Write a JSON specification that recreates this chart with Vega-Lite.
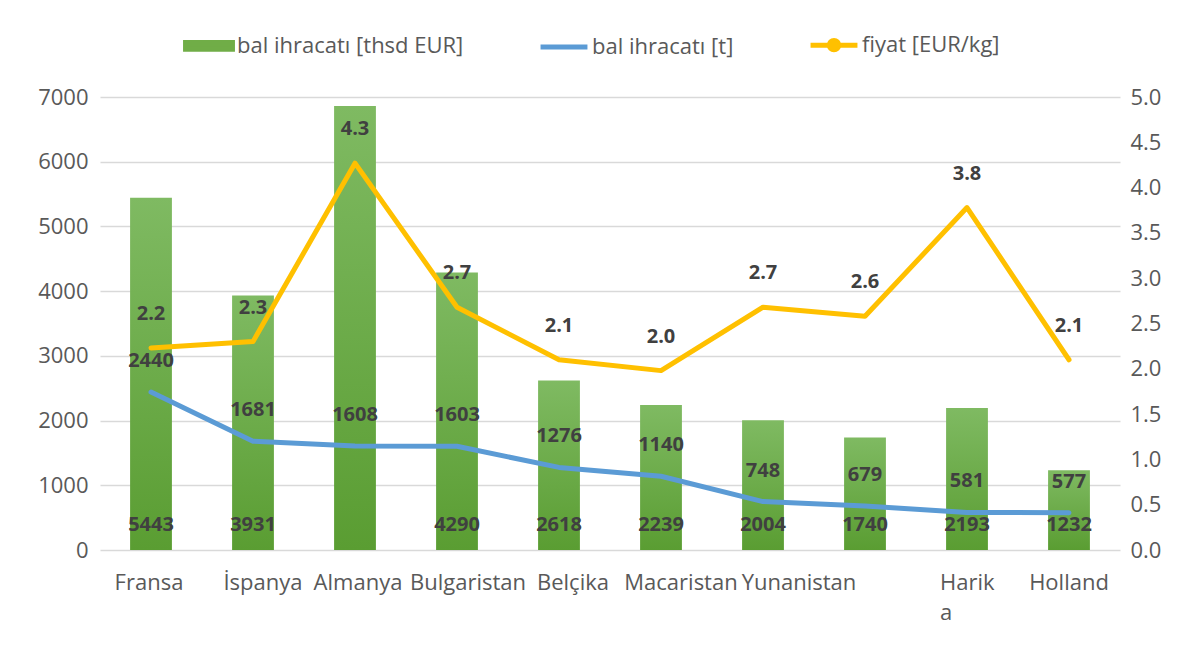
{
  "$schema": "https://vega.github.io/schema/vega-lite/v6.json",
  "width": 1020,
  "height": 453,
  "autosize": {"type": "none"},
  "padding": {"left": 100, "top": 97, "right": 72, "bottom": 95},
  "background": "white",
  "config": {
    "view": {"stroke": null},
    "font": "Open Sans",
    "axis": {"labelFont": "Open Sans", "labelFontSize": 22, "labelColor": "#595959", "ticks": false, "domain": false, "title": null}
  },
  "data": {
    "values": [
      {"country": "Fransa", "eur": 5443, "t": 2440, "p": 2.23},
      {"country": "İspanya", "eur": 3931, "t": 1681, "p": 2.3},
      {"country": "Almanya", "eur": 6862, "t": 1608, "p": 4.27},
      {"country": "Bulgaristan", "eur": 4290, "t": 1603, "p": 2.68},
      {"country": "Belçika", "eur": 2618, "t": 1276, "p": 2.1},
      {"country": "Macaristan", "eur": 2239, "t": 1140, "p": 1.98},
      {"country": "Yunanistan", "eur": 2004, "t": 748, "p": 2.68},
      {"country": " ", "eur": 1740, "t": 679, "p": 2.58},
      {"country": "Harika", "eur": 2193, "t": 581, "p": 3.78},
      {"country": "Holland", "eur": 1232, "t": 577, "p": 2.1}
    ]
  },
  "encoding": {
    "x": {
      "field": "country", "type": "nominal", "sort": null,
      "scale": {"paddingInner": 0.59, "paddingOuter": 0.295},
      "axis": {
        "labelAngle": 0, "labelOverlap": false, "labelBound": false, "labelLimit": 0,
        "labelPadding": 22, "labelBaseline": "top", "labelLineHeight": 30,
        "labelAlign": {"condition": {"test": "datum.value == 'Harika'", "value": "left"}, "value": "center"},
        "labelOffset": {
          "condition": [
            {"test": "datum.value == 'Fransa'", "value": -2},
            {"test": "datum.value == 'İspanya'", "value": 10},
            {"test": "datum.value == 'Almanya'", "value": 3},
            {"test": "datum.value == 'Bulgaristan'", "value": 11},
            {"test": "datum.value == 'Belçika'", "value": 14},
            {"test": "datum.value == 'Macaristan'", "value": 20},
            {"test": "datum.value == 'Yunanistan'", "value": 36},
            {"test": "datum.value == 'Harika'", "value": -27}
          ],
          "value": 0
        },
        "labelExpr": "datum.label == 'Harika' ? ['Harik', 'a'] : datum.label"
      }
    }
  },
  "layer": [
    {
      "layer": [
        {
          "mark": {
            "type": "bar",
            "color": {
              "gradient": "linear", "x1": 0, "y1": 0, "x2": 0, "y2": 1,
              "stops": [{"offset": 0, "color": "#7fba62"}, {"offset": 1, "color": "#5a9d32"}]
            }
          },
          "encoding": {
            "y": {
              "field": "eur", "type": "quantitative",
              "scale": {"domain": [0, 7000], "nice": false},
              "axis": {"values": [0, 1000, 2000, 3000, 4000, 5000, 6000, 7000], "grid": true, "gridColor": "#d9d9d9", "gridWidth": 1.5, "labelPadding": 12, "format": "d"}
            }
          }
        },
        {
          "transform": [{"filter": "datum.country != 'Almanya'"}],
          "mark": {"type": "text", "dy": -25, "fontWeight": "bold", "fontSize": 20, "color": "#404040"},
          "encoding": {
            "y": {"datum": 0, "type": "quantitative"},
            "text": {"field": "eur", "type": "quantitative", "format": "d"}
          }
        },
        {
          "mark": {"type": "line", "strokeWidth": 5, "strokeCap": "round", "strokeJoin": "round"},
          "encoding": {
            "y": {"field": "t", "type": "quantitative"},
            "color": {
              "datum": "bal ihracatı [t]",
              "scale": {
                "domain": ["bal ihracatı [thsd EUR]", "bal ihracatı [t]", "fiyat [EUR/kg]"],
                "range": ["#70ad47", "#5b9bd5", "#ffc000"]
              },
              "legend": {
                "title": null,
                "orient": "none",
                "direction": "horizontal",
                "legendX": 83,
                "legendY": -78,
                "labelFont": "Open Sans",
                "labelFontSize": 22,
                "labelLimit": 0,
                "labelColor": "#595959",
                "symbolSize": 2200,
                "columnPadding": 66,
                "labelOffset": 2,
                "encode": {
                  "symbols": {
                    "update": {
                      "shape": {"signal": "datum.value == 'bal ihracatı [thsd EUR]' ? 'M-1,-0.14H1V0.14H-1Z' : (datum.value == 'fiyat [EUR/kg]' ? 'M-1,0H1M-0.2,0A0.2,0.2 0 1,0 0.2,0A0.2,0.2 0 1,0 -0.2,0Z' : 'M-1,0H1')"},
                      "fill": {"scale": "color", "field": "value"},
                      "stroke": {"scale": "color", "field": "value"},
                      "strokeWidth": {"value": 5},
                      "opacity": {"value": 1}
                    }
                  }
                }
              }
            }
          }
        },
        {
          "mark": {"type": "text", "dy": -31, "fontWeight": "bold", "fontSize": 20, "color": "#404040"},
          "encoding": {
            "y": {"field": "t", "type": "quantitative"},
            "text": {"field": "t", "type": "quantitative", "format": "d"}
          }
        }
      ]
    },
    {
      "layer": [
        {
          "mark": {"type": "line", "strokeWidth": 5, "strokeCap": "round", "strokeJoin": "round"},
          "encoding": {
            "y": {
              "field": "p", "type": "quantitative",
              "scale": {"domain": [0, 5], "nice": false},
              "axis": {"orient": "right", "values": [0, 0.5, 1, 1.5, 2, 2.5, 3, 3.5, 4, 4.5, 5], "format": ".1f", "grid": false, "labelPadding": 10}
            },
            "color": {"datum": "fiyat [EUR/kg]"}
          }
        },
        {
          "mark": {"type": "text", "dy": -34, "fontWeight": "bold", "fontSize": 20, "color": "#404040"},
          "encoding": {
            "y": {"field": "p", "type": "quantitative"},
            "text": {"field": "p", "type": "quantitative", "format": ".1f"}
          }
        }
      ]
    }
  ],
  "resolve": {"scale": {"y": "independent", "color": "shared"}}
}
